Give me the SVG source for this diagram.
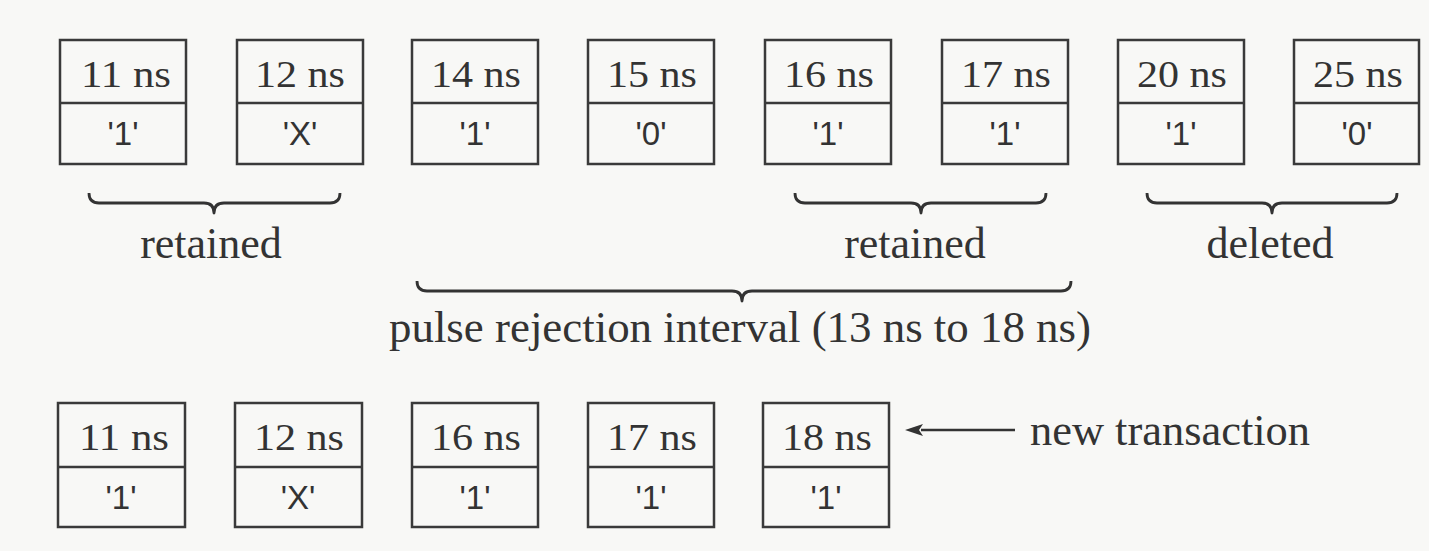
<svg xmlns="http://www.w3.org/2000/svg" width="1429" height="551" viewBox="0 0 1429 551">
<style>
.bg{fill:#f8f8f6}
.box{fill:none;stroke:#3a3a3a;stroke-width:2.5}
.t{font-family:"Liberation Serif","Times New Roman",serif;font-size:37px;fill:#333;text-anchor:middle}
.v{font-family:"Liberation Sans",Arial,sans-serif;font-size:33px;fill:#333;text-anchor:middle}
.lbl{font-family:"Liberation Serif","Times New Roman",serif;font-size:44px;fill:#333;text-anchor:middle}
.br{fill:none;stroke:#333;stroke-width:2.8;stroke-linejoin:round}
.ar{fill:none;stroke:#333;stroke-width:2.5}
</style>
<defs>
<marker id="ah" viewBox="0 0 18 12" refX="2" refY="6" markerWidth="18" markerHeight="12" markerUnits="userSpaceOnUse" orient="auto">
<path d="M18,6 L0,0 L4,6 L0,12 Z" fill="#333"/>
</marker>
</defs>
<rect class="bg" x="0" y="0" width="1429" height="551"/>
<g id="top-11"><rect class="box" x="60" y="40" width="126" height="124"/><line class="box" x1="60" y1="103" x2="186" y2="103"/><text class="t" x="126" y="87" textLength="90" lengthAdjust="spacingAndGlyphs">11 ns</text><text class="v" x="123" y="145">'1'</text></g>
<g id="top-12"><rect class="box" x="237" y="40" width="126" height="124"/><line class="box" x1="237" y1="103" x2="363" y2="103"/><text class="t" x="300" y="87" textLength="90" lengthAdjust="spacingAndGlyphs">12 ns</text><text class="v" x="300" y="145">'X'</text></g>
<g id="top-14"><rect class="box" x="412" y="40" width="126" height="124"/><line class="box" x1="412" y1="103" x2="538" y2="103"/><text class="t" x="476" y="87" textLength="90" lengthAdjust="spacingAndGlyphs">14 ns</text><text class="v" x="475" y="145">'1'</text></g>
<g id="top-15"><rect class="box" x="588" y="40" width="126" height="124"/><line class="box" x1="588" y1="103" x2="714" y2="103"/><text class="t" x="652" y="87" textLength="90" lengthAdjust="spacingAndGlyphs">15 ns</text><text class="v" x="651" y="145">'0'</text></g>
<g id="top-16"><rect class="box" x="765" y="40" width="126" height="124"/><line class="box" x1="765" y1="103" x2="891" y2="103"/><text class="t" x="829" y="87" textLength="90" lengthAdjust="spacingAndGlyphs">16 ns</text><text class="v" x="828" y="145">'1'</text></g>
<g id="top-17"><rect class="box" x="942" y="40" width="126" height="124"/><line class="box" x1="942" y1="103" x2="1068" y2="103"/><text class="t" x="1006" y="87" textLength="90" lengthAdjust="spacingAndGlyphs">17 ns</text><text class="v" x="1005" y="145">'1'</text></g>
<g id="top-20"><rect class="box" x="1118" y="40" width="126" height="124"/><line class="box" x1="1118" y1="103" x2="1244" y2="103"/><text class="t" x="1182" y="87" textLength="90" lengthAdjust="spacingAndGlyphs">20 ns</text><text class="v" x="1181" y="145">'1'</text></g>
<g id="top-25"><rect class="box" x="1294" y="40" width="125" height="124"/><line class="box" x1="1294" y1="103" x2="1419" y2="103"/><text class="t" x="1358" y="87" textLength="90" lengthAdjust="spacingAndGlyphs">25 ns</text><text class="v" x="1357" y="145">'0'</text></g>

<g id="bot-11"><rect class="box" x="58" y="403" width="127" height="124"/><line class="box" x1="58" y1="467" x2="185" y2="467"/><text class="t" x="124" y="450" textLength="90" lengthAdjust="spacingAndGlyphs">11 ns</text><text class="v" x="121" y="509">'1'</text></g>
<g id="bot-12"><rect class="box" x="235" y="403" width="127" height="124"/><line class="box" x1="235" y1="467" x2="362" y2="467"/><text class="t" x="299" y="450" textLength="90" lengthAdjust="spacingAndGlyphs">12 ns</text><text class="v" x="298" y="509">'X'</text></g>
<g id="bot-16"><rect class="box" x="412" y="403" width="126" height="124"/><line class="box" x1="412" y1="467" x2="538" y2="467"/><text class="t" x="476" y="450" textLength="90" lengthAdjust="spacingAndGlyphs">16 ns</text><text class="v" x="475" y="509">'1'</text></g>
<g id="bot-17"><rect class="box" x="588" y="403" width="126" height="124"/><line class="box" x1="588" y1="467" x2="714" y2="467"/><text class="t" x="652" y="450" textLength="90" lengthAdjust="spacingAndGlyphs">17 ns</text><text class="v" x="651" y="509">'1'</text></g>
<g id="bot-18"><rect class="box" x="763" y="403" width="126" height="124"/><line class="box" x1="763" y1="467" x2="889" y2="467"/><text class="t" x="827" y="450" textLength="90" lengthAdjust="spacingAndGlyphs">18 ns</text><text class="v" x="826" y="509">'1'</text></g>

<g id="connectors">
<path class="br" d="M89,193 Q89,203 99,203 L204,203 Q214,203 214,213 Q214,203 224,203 L330,203 Q340,203 340,193"/>
<path class="br" d="M795,193 Q795,203 805,203 L911,203 Q921,203 921,213 Q921,203 931,203 L1036,203 Q1046,203 1046,193"/>
<path class="br" d="M1147,193 Q1147,203 1157,203 L1262,203 Q1272,203 1272,213 Q1272,203 1282,203 L1387,203 Q1397,203 1397,193"/>
<path class="br" d="M417,281 Q417,291 427,291 L732,291 Q742,291 742,301 Q742,291 752,291 L1061,291 Q1071,291 1071,281"/>
<line class="ar" x1="1015" y1="430" x2="921" y2="430" marker-end="url(#ah)"/>
</g>

<g id="labels">
<text class="lbl" x="211" y="258">retained</text>
<text class="lbl" x="915" y="258">retained</text>
<text class="lbl" x="1270" y="258">deleted</text>
<text class="lbl" x="740" y="342" textLength="702" lengthAdjust="spacingAndGlyphs">pulse rejection interval (13 ns to 18 ns)</text>
<text class="lbl" x="1170" y="445" textLength="280" lengthAdjust="spacingAndGlyphs">new transaction</text>
</g>
</svg>
